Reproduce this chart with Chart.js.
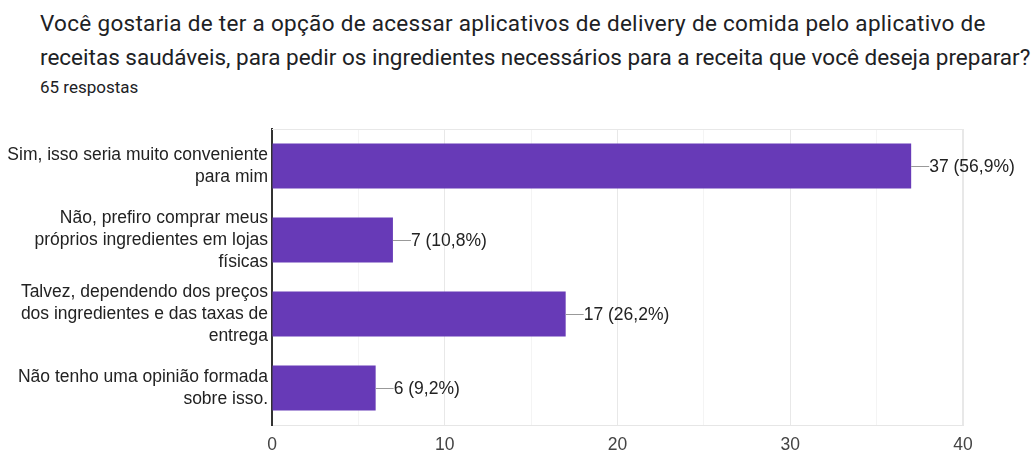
<!DOCTYPE html>
<html>
<head>
<meta charset="utf-8">
<script src="https://cdn.jsdelivr.net/npm/chart.js@4/dist/chart.umd.min.js"></script>
<style>
  body { margin: 0; background: #fff; width: 1034px; height: 453px; overflow: hidden; }
  .title { position: absolute; left: 40px; top: 6px; font-family: Roboto, sans-serif; font-size: 22.5px; line-height: 34px; color: #202124; white-space: nowrap; }
  .title .l1 { letter-spacing: 0.3px; }
  .sub { position: absolute; left: 40px; top: 77px; font-family: Roboto, sans-serif; font-size: 17px; color: #202124; }
  #wrap { position: absolute; left: 0; top: 110px; width: 1034px; height: 343px; }
</style>
</head>
<body>
<div class="title"><span class="l1">Você gostaria de ter a opção de acessar aplicativos de delivery de comida pelo aplicativo de</span><br><span class="l2">receitas saudáveis, para pedir os ingredientes necessários para a receita que você deseja preparar?</span></div>
<div class="sub">65 respostas</div>
<div id="wrap"><canvas id="chart"></canvas></div>
<script>
const categories = [
  ["Sim, isso seria muito conveniente", "para mim"],
  ["Não, prefiro comprar meus", "próprios ingredientes em lojas", "físicas"],
  ["Talvez, dependendo dos preços", "dos ingredientes e das taxas de", "entrega"],
  ["Não tenho uma opinião formada", "sobre isso."]
];
const counts = [37, 7, 17, 6];
const valueLabels = ["37 (56,9%)", "7 (10,8%)", "17 (26,2%)", "6 (9,2%)"];
const xTicks = [0, 10, 20, 30, 40];

// leader line + label at end of each bar, top/right frame of plot
const barLabels = {
  id: "barLabels",
  afterDatasetsDraw(chart) {
    const ctx = chart.ctx;
    const area = chart.chartArea;
    ctx.save();
    ctx.strokeStyle = "#e8e8e8";
    ctx.lineWidth = 1;
    ctx.beginPath();
    ctx.moveTo(area.left, area.top + 0.5);
    ctx.lineTo(area.right, area.top + 0.5);
    ctx.stroke();

    const meta = chart.getDatasetMeta(0);
    ctx.font = "17.5px 'Liberation Sans', Arial, sans-serif";
    ctx.textBaseline = "middle";
    ctx.fillStyle = "#222";
    meta.data.forEach((bar, i) => {
      ctx.strokeStyle = "#999";
      ctx.beginPath();
      ctx.moveTo(bar.x, bar.y + 0.5);
      ctx.lineTo(bar.x + 18, bar.y + 0.5);
      ctx.stroke();
      ctx.fillText(valueLabels[i], bar.x + 18, bar.y + 1);
    });
    ctx.restore();
  }
};

new Chart(document.getElementById("chart").getContext("2d"), {
  type: "bar",
  data: {
    labels: categories,
    datasets: [{
      data: counts,
      backgroundColor: "#673ab7",
      borderWidth: 0,
      categoryPercentage: 0.61,
      barPercentage: 1
    }]
  },
  options: {
    indexAxis: "y",
    responsive: true,
    maintainAspectRatio: false,
    animation: false,
    layout: { padding: { top: 19, right: 71, bottom: 0, left: 0 } },
    plugins: { legend: { display: false }, tooltip: { enabled: false } },
    scales: {
      x: {
        min: xTicks[0],
        max: xTicks[xTicks.length - 1],
        afterFit(scale) { scale.height = 28; scale.paddingLeft = 0; scale.paddingRight = 0; },
        afterBuildTicks(scale) {
          scale.ticks = [];
          for (let v = xTicks[0]; v <= xTicks[xTicks.length - 1]; v += 5) scale.ticks.push({ value: v });
        },
        ticks: {
          padding: 10,
          color: "#444",
          font: { family: "'Liberation Sans', Arial, sans-serif", size: 17.5 },
          callback: v => xTicks.includes(v) ? v : ""
        },
        grid: {
          drawTicks: false,
          color: c => (c.tick && c.tick.value % 10 === 0) ? "#e8e8e8" : "#f4f4f4",
          lineWidth: c => (c.tick && c.tick.value === 40) ? 2 : 1
        },
        border: { color: "#e6e6e6" }
      },
      y: {
        afterFit(scale) { scale.width = 272; scale.paddingTop = 0; scale.paddingBottom = 0; },
        ticks: {
          padding: 4,
          color: "#222",
          font: { family: "'Liberation Sans', Arial, sans-serif", size: 17.5, lineHeight: 1.25 }
        },
        grid: { display: false, drawTicks: false },
        border: { color: "#333", width: 2 }
      }
    }
  },
  plugins: [barLabels]
});
</script>
</body>
</html>
